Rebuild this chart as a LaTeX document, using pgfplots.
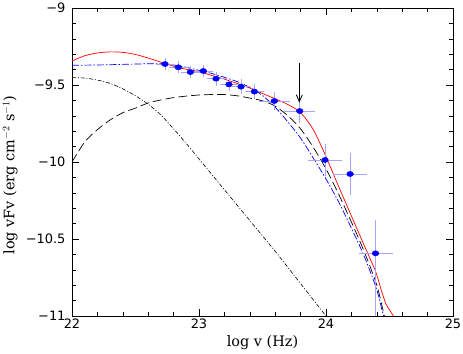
\documentclass[border=0pt]{standalone}
\usepackage{fontspec}
\setmainfont{DejaVu Serif}
\newfontfamily\tickfont{DejaVu Sans}
\usepackage{pgfplots}
\pgfplotsset{compat=1.18}
\usetikzlibrary{calc,arrows.meta}

\begin{document}
\begin{tikzpicture}[x=1bp,y=1bp]
\begin{axis}[
    scale only axis,
    width=381bp, height=308bp,
    xmin=22, xmax=25, ymin=-11, ymax=-9,
    xtick={22,23,24,25}, ytick={-11,-10.5,-10,-9.5,-9},
    xticklabels={22,23,24,25},
    yticklabels={−11,−10.5,−10,−9.5,−9},
    minor x tick num=4, minor y tick num=4,
    tick align=inside,
    xtick pos=both, ytick pos=both,
    major tick length=7bp, minor tick length=4bp,
    every tick/.style={black, line width=0.5pt},
    axis line style={line width=0.8pt},
    tick label style={font=\tickfont\fontsize{13}{15}\selectfont},
    xticklabel style={yshift=1bp},
    yticklabel style={xshift=-3bp},
    xlabel={log v (Hz)},
    ylabel={log vFv (erg cm$^{-2}$ s$^{-1}$)},
    label style={font=\fontsize{14.5}{16}\selectfont, inner sep=0pt},
    xlabel style={at={(axis description cs:0.5,-0.088)}, anchor=center},
    ylabel style={at={(axis description cs:-0.162,0.458)}, anchor=center, rotate=0},
    clip=true,
]
% dash-dot component
\addplot[black, line width=0.6pt, smooth, dash pattern=on 4bp off 1.8bp on 1bp off 1.8bp] coordinates {
(22.0,-9.452) (22.1,-9.455) (22.2,-9.468) (22.3,-9.49) (22.4,-9.525) (22.5,-9.57)
(22.6,-9.625) (22.7,-9.695) (22.8,-9.785) (22.9,-9.88) (23.0,-9.98) (23.2,-10.18)
(23.4,-10.38) (23.6,-10.58) (23.8,-10.79) (24.0,-11.0)
};
% dashed component
\addplot[black, line width=0.7pt, smooth, dash pattern=on 9bp off 4bp] coordinates {
(22.0,-10.0) (22.1,-9.87) (22.2,-9.79) (22.3,-9.727) (22.4,-9.68) (22.5,-9.65)
(22.6,-9.617) (22.7,-9.597) (22.8,-9.582) (22.9,-9.572) (23.0,-9.565) (23.1,-9.562)
(23.2,-9.562) (23.3,-9.57) (23.4,-9.585) (23.5,-9.603) (23.6,-9.637) (23.7,-9.70)
(23.8,-9.785) (23.9,-9.905) (24.0,-10.045) (24.1,-10.21) (24.2,-10.39) (24.3,-10.58)
(24.4,-10.8) (24.46,-11.0) (24.5,-11.1)
};
% blue dash-dot total
\addplot[blue, line width=0.7pt, smooth, dash pattern=on 7bp off 2bp on 1.5bp off 2bp] coordinates {
(22.0,-9.372) (22.2,-9.37) (22.4,-9.366) (22.6,-9.362) (22.7,-9.362) (22.8,-9.37)
(22.9,-9.385) (23.0,-9.405) (23.1,-9.425) (23.2,-9.45) (23.3,-9.478) (23.4,-9.515)
(23.5,-9.568) (23.6,-9.645) (23.7,-9.74) (23.8,-9.845) (23.9,-9.975) (24.0,-10.11)
(24.1,-10.26) (24.2,-10.43) (24.3,-10.61) (24.4,-10.83) (24.45,-10.99) (24.5,-11.1)
};
% red total
\addplot[red, line width=0.7pt, smooth] coordinates {
(22.0,-9.344) (22.1,-9.31) (22.2,-9.292) (22.3,-9.285) (22.4,-9.288) (22.5,-9.302)
(22.6,-9.325) (22.7,-9.352) (22.8,-9.378) (22.9,-9.398) (23.0,-9.413) (23.1,-9.438)
(23.2,-9.462) (23.3,-9.49) (23.4,-9.52) (23.5,-9.555) (23.6,-9.59) (23.7,-9.627)
(23.8,-9.68) (23.9,-9.79) (24.0,-9.965) (24.1,-10.16) (24.2,-10.35) (24.3,-10.54)
(24.39,-10.71) (24.43,-10.82)
};
\addplot[red, line width=0.7pt] coordinates {
(24.43,-10.82) (24.47,-10.92) (24.53,-11.0) (24.6,-11.1)
};
% data
\addplot[blue, only marks, mark=*, mark size=2.6bp, mark options={xscale=1.3, fill=blue},
    error bars/.cd, x dir=both, x explicit, y dir=both, y explicit,
    error bar style={blue!35, line width=0.5pt},
    error mark options={blue!35, mark size=3bp, line width=0.5pt}]
coordinates {
(22.732,-9.364) +- (0.05,0.02)
(22.837,-9.385) +- (0.05,0.02)
(22.932,-9.416) +- (0.05,0.02)
(23.034,-9.409) +- (0.05,0.02)
(23.134,-9.459) +- (0.05,0.025)
(23.236,-9.496) +- (0.05,0.025)
(23.331,-9.511) +- (0.05,0.03)
(23.436,-9.543) +- (0.05,0.03)
(23.593,-9.604) +- (0.1,0.04)
(23.793,-9.669) +- (0.1,0.06)
(23.992,-9.987) +- (0.11,0.085)
(24.19,-10.078) +- (0.11,0.12)
(24.39,-10.593) += (0.11,0.2) -= (0.11,0.8)
};
\draw[-{Straight Barb[length=7bp,width=6bp]}, line width=0.8pt] (axis cs:23.79,-9.355) -- (axis cs:23.79,-9.615);
\end{axis}
\pgfresetboundingbox
\path[use as bounding box] ($(current axis.south west)+(-72bp,-38bp)$) rectangle ($(current axis.north east)+(10bp,8bp)$);
\end{tikzpicture}
\end{document}
